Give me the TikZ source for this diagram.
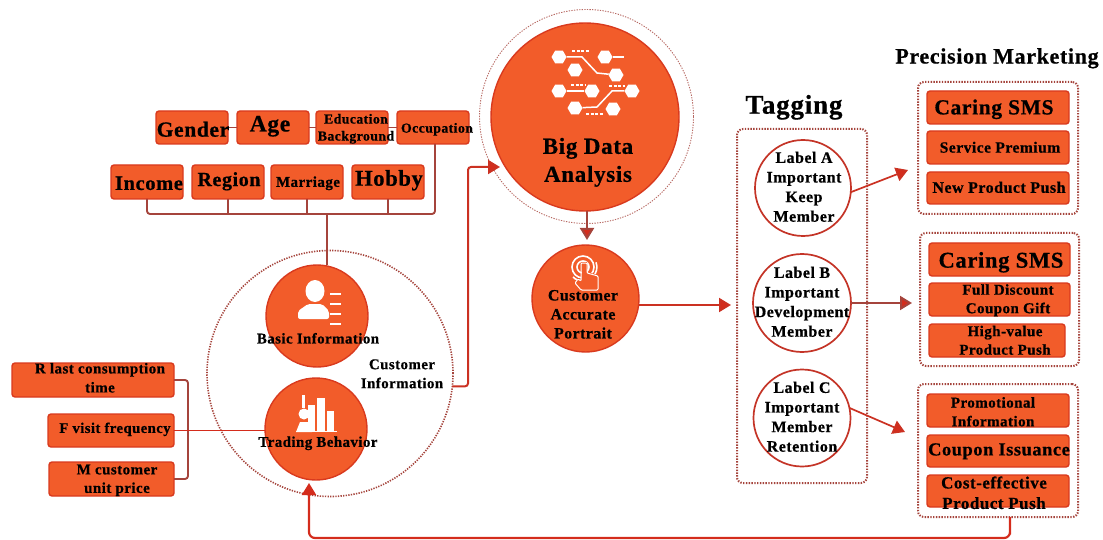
\documentclass[tikz,border=0pt]{standalone}
\usepackage{fontspec}
\setmainfont[LetterSpace=3,BoldFeatures={FakeBold=0.6}]{Liberation Serif}
\usetikzlibrary{arrows.meta,shapes.geometric}
\definecolor{orfill}{HTML}{F25C2A}
\definecolor{oredge}{HTML}{D93A1E}
\definecolor{brownl}{HTML}{A5443C}
\definecolor{redl}{HTML}{D42C1C}
\tikzset{
  bxs/.style={draw=oredge,fill=orfill,line width=1.4pt,rounded corners=3pt,inner sep=0pt,outer sep=0pt},
  cir/.style={circle,draw=oredge,fill=orfill,line width=1.4pt,inner sep=0pt,outer sep=0pt},
  lab/.style={circle,draw=redl!65!brownl,fill=white,line width=1.7pt,inner sep=0pt,outer sep=0pt},
  txt/.style={align=center,inner sep=0pt,text=black,yshift=-0.3pt},
  dot/.style={draw=brownl,line width=2pt,dash pattern=on 1.4pt off 1.4pt,rounded corners=6pt,inner sep=0pt,outer sep=0pt},
  dotc/.style={circle,draw=brownl,line width=1.6pt,dash pattern=on 1.3pt off 1.3pt,inner sep=0pt,outer sep=0pt},
  conn/.style={draw=brownl,line width=1.9pt,rounded corners=3pt},
  arr/.style={draw=redl!80!brownl,line width=2pt,rounded corners=3pt,-{Triangle[length=12pt,width=14pt,fill=redl]}},
  wl/.style={draw=white,line width=1.5pt},
  wd/.style={draw=white,line width=1.4pt,dash pattern=on 3pt off 1.5pt},
  hexn/.style={regular polygon,regular polygon sides=6,fill=white,inner sep=0pt,minimum size=15pt},
}
\newcommand{\bx}[5]{%
  \pgfmathsetmacro{\bw}{#4-#2}\pgfmathsetmacro{\bh}{#5-#3}%
  \pgfmathsetmacro{\bcx}{(#2+#4)/2}\pgfmathsetmacro{\bcy}{(#3+#5)/2}%
  \node[bxs,minimum width=\bw pt,minimum height=\bh pt] (#1) at (\bcx,\bcy) {};}
\newcommand{\dbx}[5]{%
  \pgfmathsetmacro{\bw}{#4-#2}\pgfmathsetmacro{\bh}{#5-#3}%
  \pgfmathsetmacro{\bcx}{(#2+#4)/2}\pgfmathsetmacro{\bcy}{(#3+#5)/2}%
  \node[dot,minimum width=\bw pt,minimum height=\bh pt] (#1) at (\bcx,\bcy) {};}
\newcommand{\tx}[6]{\node[txt,font=\fontsize{#4}{#5}\selectfont\bfseries] (#1) at (#2,#3) {#6};}
\begin{document}
\begin{tikzpicture}[x=1pt,y=-1pt]
\useasboundingbox (0,0) rectangle (1103,540);
% top boxes
\bx{gender}{156}{111}{228}{144}
\bx{age}{237}{111}{309}{144}
\bx{edu}{316}{111}{388}{144}
\bx{occ}{397}{111}{469}{144}
\bx{income}{111}{165}{183}{199}
\bx{region}{192}{165}{264}{199}
\bx{marriage}{271}{165}{343}{199}
\bx{hobby}{352}{165}{424}{199}
% RFM boxes
\bx{rbox}{12}{363}{174}{397}
\bx{fbox}{48}{414}{174}{447}
\bx{mbox}{49}{462}{174}{496}
% circles
\node[dotc,minimum size=246pt] (custcircle) at (330,373.5) {};
\node[cir,minimum size=102pt] (basic) at (317,316) {};
\node[cir,minimum size=102pt] (trading) at (316,429) {};
\node[dotc,draw=brownl!80,line width=.9pt,minimum size=214pt] (bigring) at (586.5,116.5) {};
\node[cir,minimum size=188pt] (bigdata) at (585,117) {};
\node[cir,minimum size=107pt] (portrait) at (585.5,298.5) {};
% connectors top
\coordinate (bus) at (327,214);
\draw[conn] (gender.east) -- (age.west);
\draw[conn] (age.east) -- (edu.west);
\draw[conn] (edu.east) -- (occ.west);
\draw[conn] (income.south) |- (bus) -| ([xshift=2pt]occ.south);
\draw[conn] (region.south) -- (region.south |- bus);
\draw[conn] (marriage.south) -- (marriage.south |- bus);
\draw[conn] (hobby.south) -- (hobby.south |- bus);
\draw[conn] (bus) -- (bus |- basic.north);
% RFM connectors
\coordinate (brk) at (188,430);
\draw[conn] (rbox.east) -| (brk) |- (mbox.east);
\draw[draw=redl,line width=1.5pt] (fbox.east) -- (fbox.east -| trading.west);
% customer info arrow
\coordinate (bdin) at (500,167);
\coordinate (cibend) at (468,300);
\draw[arr] (custcircle.-6) -| (cibend) |- (bdin);
% flow arrows
\coordinate (bdout) at (587,211);
\coordinate (ptin) at (587,240);
\draw[arr,draw=brownl] (bdout) -- (ptin);
\coordinate (portout) at (639,305);
\coordinate (tagin) at (731,305);
\draw[arr] (portout) -- (tagin);
% tagging
\dbx{tagbox}{737}{129}{867}{483}
\node[lab,minimum size=96pt] (la) at (803,188) {};
\node[lab,minimum size=98pt] (lb) at (802,303) {};
\node[lab,minimum size=97pt] (lc) at (802,418) {};
% precision
\dbx{pma}{918}{82}{1078}{214}
\dbx{pmb}{920}{233}{1079}{366}
\dbx{pmc}{918}{384}{1078}{517}
\bx{pa1}{927}{91}{1069}{124}
\bx{pa2}{927}{131}{1069}{164}
\bx{pa3}{927}{172}{1069}{204}
\bx{pb1}{929}{243}{1070}{276}
\bx{pb2}{929}{283}{1070}{316}
\bx{pb3}{929}{324}{1065}{357}
\bx{pc1}{927}{394}{1069}{427}
\bx{pc2}{927}{435}{1069}{467}
\bx{pc3}{927}{475}{1069}{507}
\coordinate (aout) at (908,170);
\coordinate (bout) at (912,303);
\coordinate (cout) at (905,432);
\draw[arr,line width=1.7pt] (la.-5) -- (aout);
\draw[arr,draw=brownl] (lb.east) -- (bout);
\draw[arr,line width=1.7pt] (lc.12) -- (cout);
% loop back
\coordinate (loopin) at (309,483);
\coordinate (loopc) at (1010,538);
\draw[arr,draw=redl,rounded corners=6pt,line width=2.2pt] ([xshift=12pt]pmc.south) |- (loopc) -| (loopin);
% big data icon
\node[hexn] (h1) at (559,57) {};
\node[hexn] (h2) at (605,57) {};
\node[hexn] (h3) at (575,70) {};
\node[hexn] (h4) at (616,75) {};
\node[hexn] (h5) at (559,91) {};
\node[hexn] (h6) at (592,91) {};
\node[hexn] (h7) at (632,91) {};
\node[hexn] (h8) at (575,108) {};
\node[hexn] (h9) at (613,109) {};
\draw[wl] (h1) -- (582,57) -- (597,73) -- (h4);
\draw[wl] (h2) -- (624,57);
\draw[wl] (h5) -- (h6);
\draw[wl] (h7) -- (612,91) -- (597,107) -- (h8);
\draw[wd] (572,51) -- (589,51);
\draw[wd] (571,85) -- (586,85);
\draw[wd] (609,86) -- (625,86);
\draw[wd] (586,114) -- (603,114);
% person icon
\fill[white] (315,291) ellipse (9.5 and 11);
\fill[white,rounded corners=2pt] (298,319) -- (298,311) -- (308,304) -- (322,304) -- (329,311) -- (329,319) -- cycle;
\foreach \yy in {294,304,314,324} \draw[white,line width=2.6pt] (330,\yy) -- (341,\yy);
% trading icon
\fill[white] (302,395) rectangle (305,408);
\fill[white] (308,405) rectangle (315,431);
\fill[white] (317,398) rectangle (325,431);
\fill[white] (327,411) rectangle (334,431);
\fill[white] (304,414) circle (5.5);
\fill[white] (296,432) -- (300,422) -- (308,422) -- (312,432) -- cycle;
\draw[white,line width=1.5pt] (296,431.5) -- (337,431.5);
% hand icon
\draw[white,line width=1.6pt] (583,267) circle (6);
\draw[white,line width=1.6pt] (583,267) circle (11);
\draw[white,line width=1.6pt] (573,277) arc (135:-20:14);
\fill[orfill] (583,262) -- (587,262) -- (587,272) -- (598,275) -- (598,290) -- (580,290) -- (574,283) -- (579,278) -- (581,280) -- cycle;
\draw[white,line width=1pt,rounded corners=1pt] (581,263) -- (587,263) -- (587,273) -- (598,276) -- (598,290) -- (581,290) -- (575,283) -- (578,279) -- (581,281) -- cycle;
% texts
\tx{tgender}{193}{129}{21.5}{24}{Gender}
\tx{tage}{270}{126}{23.5}{24}{Age}
\tx{tedu}{356}{128.5}{13.8}{17}{Education\\Background}
\tx{tocc}{437}{129}{13.8}{16}{Occupation}
\tx{tincome}{149}{183}{20.5}{24}{Income}
\tx{tregion}{229}{181}{20}{24}{Region}
\tx{tmarriage}{308}{183}{15}{18}{Marriage}
\tx{thobby}{389}{180}{22.5}{24}{Hobby}
\tx{tr}{100}{377.5}{15}{19}{R last consumption\\time}
\tx{tf}{115}{429}{14.7}{18}{F visit frequency}
\tx{tm}{117}{480}{15}{18.5}{M customer\\unit price}
\tx{tbasic}{318}{338}{14.9}{18}{Basic Information}
\tx{ttrading}{318}{443}{14.9}{18}{Trading Behavior}
\tx{tcust}{402}{373.5}{14.9}{19}{Customer\\Information}
\tx{tbig}{588}{162}{23}{28}{Big Data\\Analysis}
\tx{tport}{583}{314}{15.8}{19}{Customer\\Accurate\\Portrait}
\tx{ttag}{794}{107}{27}{30}{Tagging}
\tx{tprec}{997}{58}{22}{26}{Precision Marketing}
\tx{tla}{804}{186.5}{16}{19.6}{Label A\\Important\\Keep\\Member}
\tx{tlb}{802}{301.5}{16}{19.6}{Label B\\Important\\Development\\Member}
\tx{tlc}{802}{416.5}{16}{19.6}{Label C\\Important\\Member\\Retention}
\tx{tpa1}{994}{109}{21.5}{24}{Caring SMS}
\tx{tpa2}{1000}{147}{15.6}{18}{Service Premium}
\tx{tpa3}{999}{187}{16}{18}{New Product Push}
\tx{tpb1}{1001}{262}{22.5}{24}{Caring SMS}
\tx{tpb2}{1008}{300}{15}{18.5}{Full Discount\\Coupon Gift}
\tx{tpb3}{1005}{340}{15}{18.5}{High-value\\Product Push}
\tx{tpc1}{993}{411.5}{15}{18.8}{Promotional\\Information}
\tx{tpc2}{999}{451}{18.4}{20}{Coupon Issuance}
\tx{tpc3}{994}{492.5}{17}{20.5}{Cost-effective\\Product Push}
\end{tikzpicture}
\end{document}
